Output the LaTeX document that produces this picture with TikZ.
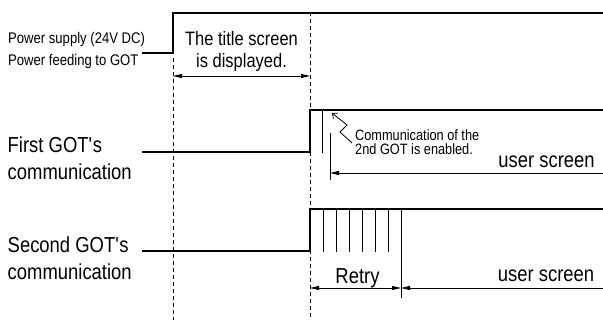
\documentclass[tikz,border=0pt]{standalone}
\usepackage{fontspec}
\setmainfont{Liberation Sans}[FakeStretch=0.85]
\usetikzlibrary{arrows.meta,positioning}

\begin{document}
\begin{tikzpicture}[
    x=1pt,
    y=-1pt,
    >={Triangle[length=9pt,width=4pt]},
    signal/.style={line width=2.4pt},
    guide/.style={line width=0.9pt,dash pattern=on 4pt off 3pt},
    marker/.style={line width=0.9pt},
    span/.style={line width=0.9pt,<->},
    rowlabel/.style={
        align=left,
        anchor=west,
        inner sep=0pt,
        font=\fontsize{21.7}{27}\selectfont
    },
    spanlabel/.style={
        anchor=base,
        inner sep=0pt,
        font=\fontsize{21.7}{27}\selectfont
    },
    notelabel/.style={
        align=left,
        anchor=west,
        inner sep=0pt,
        font=\fontsize{15}{14}\selectfont
    }
]

\useasboundingbox (0,0) rectangle (603,320);

% ---------------------------------------------------------
% Time guides
% ---------------------------------------------------------

\draw[guide] (173,58) -- (173,320);
\draw[guide] (310,12) -- (310,320);

% ---------------------------------------------------------
% Power supply
% ---------------------------------------------------------

\node[
    align=left,
    anchor=west,
    inner sep=0pt,
    font=\fontsize{15.4}{21.7}\selectfont
] (power) at (8,50.2)
{Power supply (24V DC)\\Power feeding to GOT};

\draw[signal] (142,53) -- (173,53) -- (173,13) -- (603,13);

\coordinate (titleL) at (173,76);
\coordinate (titleR) at (310,76);
\draw[span] (titleL) -- (titleR);

\node[
    align=center,
    inner sep=0pt,
    font=\fontsize{19.4}{21.7}\selectfont
] (title) at (241.5,51.5)
{The title screen\\is displayed.};

% ---------------------------------------------------------
% First GOT
% ---------------------------------------------------------

\node[rowlabel] (first) at (7.5,158.6)
{First GOT\textquotesingle s\\communication};

\draw[signal] (142,152) -- (310,152) -- (310,110) -- (603,110);

\draw[marker] (322.7,110) -- (322.7,153);
\draw[marker] (330,133) -- (330,180);

\coordinate (firstL) at (330,173);
\coordinate (firstR) at (603,173);
\draw[marker,->] (firstR) -- (firstL);

\node[spanlabel] (firstuser) at (546.5,167.5) {user screen};

% enable note
\coordinate (notetip) at (332,113);
\draw[
    line width=0.8pt,
    {Straight Barb[length=4pt,width=7pt]}-
] (notetip) -- (347,125) -- (340,132) -- (352,143);

\node[notelabel] (note) at (355,142.5)
{Communication of the\\2nd GOT is enabled.};

% ---------------------------------------------------------
% Second GOT
% ---------------------------------------------------------

\node[rowlabel] (second) at (7.5,258.6)
{Second GOT\textquotesingle s\\communication};

\draw[signal] (142,251) -- (310,251) -- (310,209) -- (603,209);

% retry pulses
\foreach \k in {1,...,6}
    \draw[marker] (310+13*\k,209) -- (310+13*\k,252);
\draw[marker] (401,209) -- (401,298);

\coordinate (retryL) at (310,288);
\coordinate (retryR) at (401,288);
\coordinate (secondR) at (603,288);
\draw[span] (retryL) -- (retryR);
\draw[marker,->] (secondR) -- (retryR);

\node[spanlabel] (retry) at (357.5,284) {Retry};
\node[spanlabel] (seconduser) at (546,282) {user screen};

\end{tikzpicture}
\end{document}
